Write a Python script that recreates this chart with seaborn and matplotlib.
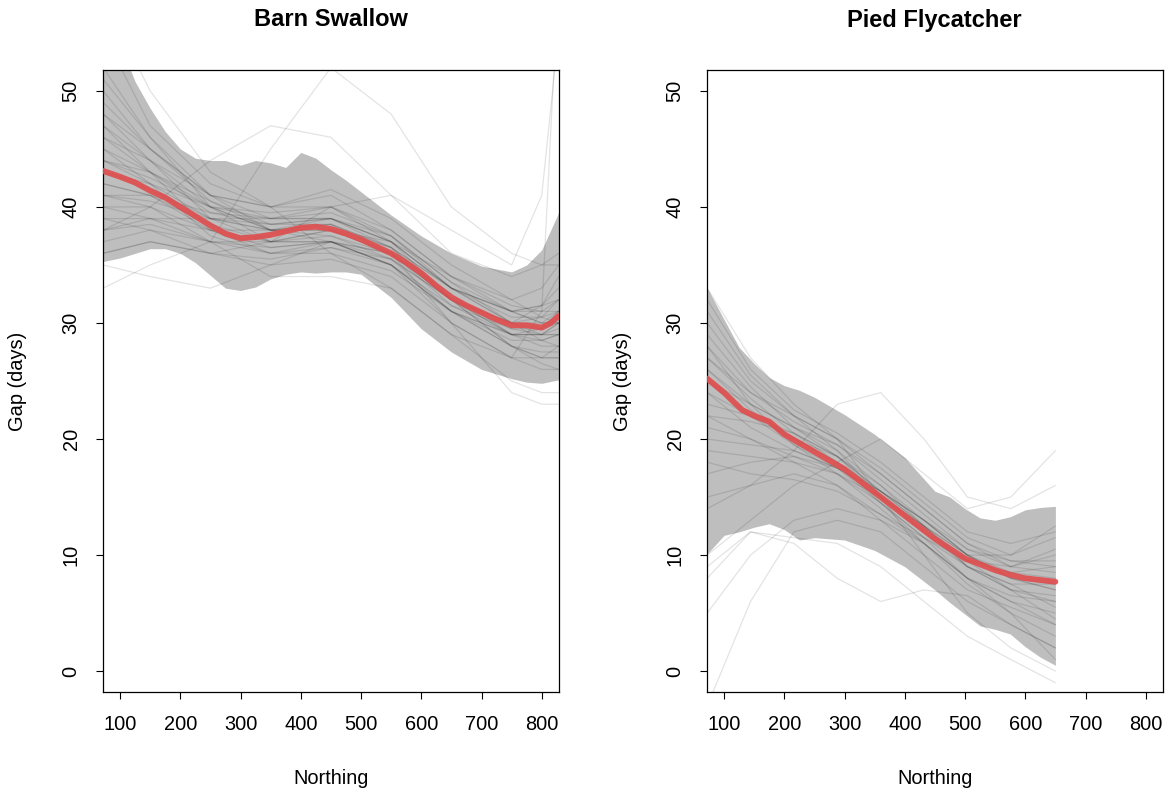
import numpy as np
import pandas as pd
import matplotlib
matplotlib.use("Agg")
import matplotlib.pyplot as plt
import seaborn as sns

# ---------------- data ----------------
titles = ["Barn Swallow", "Pied Flycatcher"]
x_ticks = [100, 200, 300, 400, 500, 600, 700, 800]
y_ticks = [0, 10, 20, 30, 40, 50]

# Barn Swallow: band (upper/lower) and mean line
bs_band_x = [72, 100, 125, 150, 175, 200, 225, 250, 275, 300, 325, 350, 375, 400,
             425, 450, 475, 500, 550, 600, 650, 700, 750, 775, 800, 828]
bs_upper = [56, 54, 50.8, 48.5, 46.5, 45.0, 44.2, 44.0, 44.0, 43.6, 44.0, 43.8, 43.4, 44.7,
            44.2, 43.2, 42.3, 41.3, 39.3, 37.5, 36.0, 34.9, 34.4, 35.0, 36.3, 39.5]
bs_lower = [35.3, 35.6, 36.0, 36.4, 36.4, 36.0, 35.2, 34.1, 33.0, 32.8, 33.1, 33.8, 34.2, 34.4,
            34.3, 34.4, 34.4, 34.2, 32.2, 29.5, 27.5, 26.0, 25.2, 24.9, 24.8, 25.1]
bs_mean_x = [72, 100, 125, 150, 175, 200, 225, 250, 275, 300, 325, 350, 375, 400, 425, 450,
             475, 500, 525, 550, 575, 600, 625, 650, 675, 700, 725, 750, 775, 800, 815, 828]
bs_mean = [43.1, 42.6, 42.1, 41.4, 40.8, 40.0, 39.2, 38.4, 37.7, 37.3, 37.4, 37.6, 37.9, 38.2,
           38.3, 38.1, 37.7, 37.2, 36.6, 36.0, 35.2, 34.3, 33.2, 32.2, 31.5, 30.9, 30.3, 29.8,
           29.8, 29.6, 30.0, 30.6]

# Barn Swallow: individual replicate curves
bs_lines_x = [72, 150, 250, 350, 450, 550, 650, 750, 800, 828]
bs_lines = [
    [44, 42, 39, 38, 38.5, 36, 32, 30, 30, 31],
    [47, 44, 40, 38, 39, 37, 33, 30, 29, 29],
    [40, 40, 38, 37, 37.5, 36, 32.5, 29, 28, 28],
    [50, 45, 41, 39, 39, 37, 33, 31, 31.5, 33],
    [38, 38.5, 37, 36.5, 37, 35.5, 31, 28, 27, 27],
    [45, 43, 40, 39.5, 40, 37.5, 33.5, 31, 31, 32],
    [42, 41, 38, 36, 36.5, 35, 31, 28.5, 28.5, 29],
    [55, 47, 42, 40, 41, 38, 34, 32, 33, 35],
    [36, 37, 36, 35, 35.5, 34, 30, 27, 26, 26],
    [43, 41.5, 39, 38, 38, 36.5, 33, 31, 30, 30],
    [48, 44, 39, 37, 38, 36, 31.5, 29, 29, 30],
    [41, 40.5, 39, 38.5, 39, 37, 33, 30.5, 30.5, 31],
    [46, 43, 38, 36.5, 37, 35, 30, 27, 27, 28],
    [39, 39, 38, 38, 38.5, 36.5, 32, 29, 29, 30],
    [52, 46, 41, 38, 38, 36, 32, 30, 31.5, 34],
    [44, 42.5, 40, 39, 40, 38, 34, 31.5, 31, 31],
    [37, 38, 37, 36, 36, 34.5, 31, 29, 29, 29.5],
    [45, 42, 37.5, 36, 37, 36, 32, 28, 26.5, 26],
    [49, 45, 41, 40, 41.5, 39, 35, 32, 30.5, 30],
    [42, 41, 38.5, 37, 37, 35, 31, 28, 27.5, 27.5],
    [46, 44, 41, 40, 40, 37, 32, 29, 28.5, 29],
    [40, 39, 37, 37, 38, 37, 34, 31, 30, 30],
    [51, 46, 40, 37, 37, 35, 31, 29, 29.5, 31],
    [43, 42, 40, 38, 37, 35, 31.5, 29.5, 29.5, 30.5],
    [38, 39, 39, 39, 39, 36.5, 32, 28, 27, 27],
    [47, 43, 39.5, 38.5, 39, 37.5, 33, 30, 30.5, 32],
    [44, 43, 40.5, 38, 37.5, 35.5, 32, 30, 29.5, 30],
    [41, 41, 39.5, 39, 39.5, 37.5, 33.5, 30, 28.5, 28],
    [48, 45, 40.5, 38.5, 38.5, 36.5, 33, 31, 31.5, 32],
    [39, 38, 36, 35.5, 36.5, 35.5, 32, 29.5, 29, 29],
    [33, 35, 37, 45, 52, 48, 40, 36, 35, 35],
    [38, 40, 44, 47, 46, 41, 36, 34, 35, 36],
    [35, 34, 33, 35, 37, 36, 30, 24, 23, 23],
    [41, 40, 37, 34, 34, 33, 29, 27, 31, 60],
    [36, 37, 36, 37, 40, 41, 38, 35, 41, 55],
    [58, 50, 43, 40, 36, 33, 29, 25, 24, 24],
]

# Pied Flycatcher: band and mean line
pf_band_x = [72, 100, 125, 150, 175, 200, 225, 250, 300, 350, 400, 450, 475, 500,
             525, 550, 575, 600, 625, 650]
pf_upper = [33.0, 30.3, 27.9, 26.5, 25.3, 24.6, 24.2, 23.6, 22.1, 20.4, 18.4, 15.5, 15.0, 14.0,
            13.2, 13.0, 13.3, 13.9, 14.1, 14.2]
pf_lower = [10.1, 11.7, 12.0, 12.4, 12.7, 12.2, 11.3, 11.5, 11.3, 10.4, 9.0, 7.0, 5.9, 4.9,
            3.9, 3.6, 3.2, 2.1, 1.2, 0.5]
pf_mean_x = [72, 100, 130, 150, 175, 200, 250, 300, 350, 400, 450, 500, 550, 575, 600, 650]
pf_mean = [25.2, 24.0, 22.5, 22.0, 21.5, 20.4, 18.9, 17.4, 15.4, 13.4, 11.4, 9.7, 8.7, 8.3,
           8.0, 7.7]

# Pied Flycatcher: individual replicate curves
pf_lines_x = [72, 144, 216, 288, 360, 432, 504, 576, 650]
pf_lines = [
    [26, 22.5, 20, 18, 15.5, 13, 10, 8.5, 8],
    [30, 25, 22, 20, 17, 14, 11, 9.5, 9],
    [22, 20, 18.5, 17, 14.5, 11.5, 8, 6, 5],
    [28, 24, 21.5, 19.5, 16.5, 13.5, 10.5, 9, 10],
    [18, 17, 16.5, 15.5, 13.5, 11, 8, 6.5, 6],
    [25, 23, 21, 19, 16, 12.5, 9, 7, 6.5],
    [32, 26, 22.5, 20.5, 18, 15, 12, 11, 12],
    [20, 19.5, 19, 17.5, 14.5, 11, 7.5, 5, 3],
    [27, 23.5, 20.5, 18.5, 15, 12, 9.5, 9, 10.5],
    [24, 21, 19, 17.5, 15.5, 13, 10, 8, 7],
    [15, 16, 17, 16, 13, 10, 7, 5.5, 4],
    [29, 24.5, 21, 18.5, 15.5, 12.5, 10, 10, 11.5],
    [23, 22, 20.5, 18, 14.5, 11.5, 9, 7.5, 5.5],
    [26, 23, 21, 19.5, 17, 14, 11, 9, 8.5],
    [21, 20, 18, 16, 13.5, 11.5, 9.5, 8.5, 9],
    [31, 25.5, 22, 19, 15, 12, 9, 7, 6],
    [19, 18.5, 18, 17, 15, 12.5, 9.5, 7, 4.5],
    [27, 24, 22, 20, 17.5, 14.5, 11.5, 10, 12.5],
    [24, 22, 20, 18.5, 16, 13, 10.5, 9.5, 9.5],
    [28, 23, 19.5, 17, 14, 11, 8, 6, 4],
    [17, 18, 18.5, 17.5, 15.5, 13, 10, 8, 7.5],
    [25, 22, 19.5, 17.5, 15, 12.5, 10, 8, 7],
    [22, 21.5, 20.5, 18.5, 15.5, 12.5, 9, 7.5, 7.5],
    [-3, 6, 12, 13, 12, 9, 6, 4, 2],
    [9, 12, 11, 8, 6, 7, 6.5, 4, 2],
    [14, 16, 19, 23, 24, 20, 15, 14, 16],
    [10, 13, 16, 18, 20, 17, 14, 15, 19],
    [8, 12, 11.5, 11, 9, 6, 3, 1, -1],
    [33, 27, 23, 20, 15, 10, 5, 2, 0],
    [5, 10, 13, 14, 13, 11, 8, 5, 1],
]


def lines_frame(xs, ys_list):
    rows = []
    for i, ys in enumerate(ys_list):
        for xv, yv in zip(xs, ys):
            rows.append({"line": i, "x": xv, "y": yv})
    return pd.DataFrame(rows)


# ---------------- style ----------------
sns.set_style("white")
plt.rcParams["font.family"] = ["Liberation Sans", "DejaVu Sans"]
plt.rcParams["text.color"] = "black"
plt.rcParams["axes.labelcolor"] = "black"
plt.rcParams["xtick.color"] = "black"
plt.rcParams["ytick.color"] = "black"

W, H = 1168, 790
fig = plt.figure(figsize=(W / 100, H / 100), dpi=100)

panels = [
    dict(left=103, band=(bs_band_x, bs_upper, bs_lower), mean=(bs_mean_x, bs_mean),
         lines=(bs_lines_x, bs_lines)),
    dict(left=707, band=(pf_band_x, pf_upper, pf_lower), mean=(pf_mean_x, pf_mean),
         lines=(pf_lines_x, pf_lines)),
]

for title, p in zip(titles, panels):
    ax = fig.add_axes([p["left"] / W, 1 - 692 / H, 455.5 / W, 622 / H])
    bx, bu, bl = p["band"]
    ax.fill_between(bx, bl, bu, color="#BEBEBE", lw=0, zorder=1)
    df = lines_frame(*p["lines"])
    sns.lineplot(data=df, x="x", y="y", units="line", estimator=None, color="black",
                 alpha=0.11, lw=0.9, ax=ax, legend=False, zorder=2)
    mdf = pd.DataFrame({"x": p["mean"][0], "y": p["mean"][1]})
    sns.lineplot(data=mdf, x="x", y="y", color="#DF4E4E", alpha=0.92, lw=4.2, ax=ax,
                 zorder=3, estimator=None)

    ax.set_xlim(71.7, 827.8)
    ax.set_ylim(-1.8, 51.8)
    ax.set_xticks(x_ticks)
    ax.set_yticks(y_ticks)
    ax.set_xticklabels([str(v) for v in x_ticks])
    ax.set_yticklabels([str(v) for v in y_ticks], rotation=90, va="center")
    ax.set_xlabel("")
    ax.set_ylabel("")
    for s in ax.spines.values():
        s.set_visible(True)
        s.set_color("black")
        s.set_linewidth(0.9)
    ax.tick_params(axis="both", direction="out", length=5.2, width=0.8, color="black",
                   labelsize=14.4, labelcolor="black", bottom=True, left=True)
    ax.tick_params(axis="x", pad=11)
    ax.tick_params(axis="y", pad=11)

    cx = (p["left"] + 455.5 / 2) / W
    fig.text(cx, 1 - 20 / H, title, ha="center", va="center", fontsize=17,
             fontweight="bold", color="black")
    fig.text(cx, 1 - 778 / H, "Northing", ha="center", va="center", fontsize=14.4,
             color="black")
    fig.text((p["left"] - 85) / W, 1 - 381 / H, "Gap (days)", ha="center", va="center",
             rotation=90, fontsize=14.4, color="black")

fig.savefig("out.png", dpi=100)
